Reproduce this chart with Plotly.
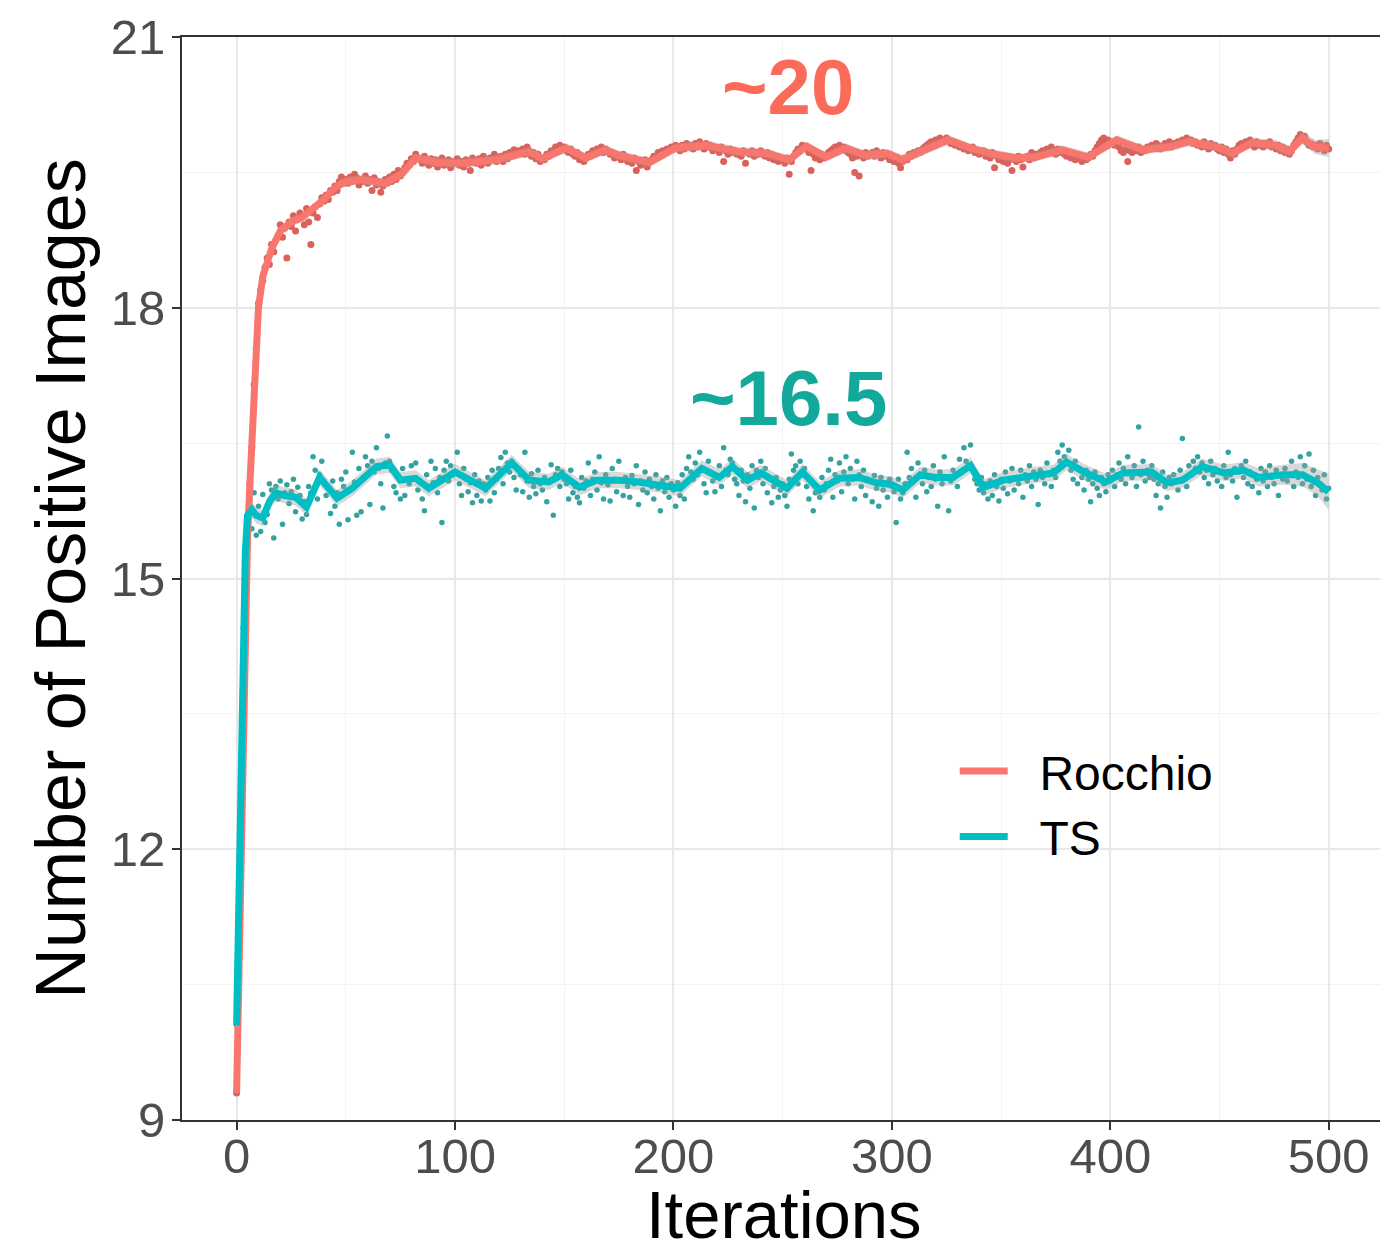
import plotly.graph_objects as go

# ---------------- data ----------------
rocchio_points = [
    9.30, 10.60, 12.05, 13.35, 14.75, 15.40, 16.05, 16.45, 17.15, 17.55,
    18.05, 18.20, 18.30, 18.45, 18.55, 18.48, 18.70, 18.62, 18.75, 18.80,
    18.92, 18.78, 18.88, 18.55, 18.95, 18.90, 19.02, 18.85, 18.98, 19.05,
    19.00, 18.92, 19.10, 18.95, 18.70, 19.05, 19.12, 19.00, 19.15, 19.22,
    19.18, 19.25, 19.20, 19.30, 19.28, 19.35, 19.30, 19.40, 19.45, 19.38,
    19.42, 19.38, 19.45, 19.40, 19.48, 19.44, 19.36, 19.42, 19.40, 19.46,
    19.38, 19.42, 19.30, 19.44, 19.36, 19.40, 19.28, 19.35, 19.42, 19.38,
    19.45, 19.40, 19.48, 19.42, 19.52, 19.46, 19.50, 19.55, 19.60, 19.58,
    19.65, 19.62, 19.70, 19.66, 19.64, 19.60, 19.68, 19.62, 19.58, 19.65,
    19.60, 19.64, 19.56, 19.62, 19.66, 19.58, 19.60, 19.64, 19.55, 19.62,
    19.60, 19.65, 19.58, 19.62, 19.56, 19.64, 19.60, 19.52, 19.66, 19.62,
    19.60, 19.65, 19.58, 19.68, 19.62, 19.60, 19.66, 19.64, 19.70, 19.62,
    19.66, 19.68, 19.62, 19.70, 19.65, 19.72, 19.68, 19.75, 19.70, 19.74,
    19.72, 19.76, 19.70, 19.78, 19.74, 19.68, 19.72, 19.65, 19.70, 19.62,
    19.66, 19.64, 19.70, 19.68, 19.74, 19.72, 19.78, 19.75, 19.80, 19.76,
    19.78, 19.74, 19.72, 19.76, 19.70, 19.68, 19.72, 19.64, 19.66, 19.62,
    19.66, 19.70, 19.68, 19.74, 19.72, 19.76, 19.74, 19.78, 19.72, 19.76,
    19.74, 19.70, 19.72, 19.66, 19.70, 19.68, 19.64, 19.70, 19.66, 19.62,
    19.64, 19.60, 19.66, 19.52, 19.62, 19.58, 19.60, 19.64, 19.56, 19.62,
    19.64, 19.68, 19.66, 19.72, 19.70, 19.74, 19.72, 19.76, 19.74, 19.78,
    19.76, 19.80, 19.78, 19.74, 19.80, 19.76, 19.82, 19.78, 19.80, 19.76,
    19.82, 19.78, 19.84, 19.80, 19.76, 19.82, 19.78, 19.80, 19.74, 19.78,
    19.76, 19.72, 19.78, 19.62, 19.74, 19.70, 19.76, 19.72, 19.74, 19.70,
    19.72, 19.68, 19.74, 19.60, 19.72, 19.70, 19.74, 19.68, 19.72, 19.70,
    19.74, 19.70, 19.68, 19.72, 19.66, 19.70, 19.64, 19.68, 19.62, 19.66,
    19.64, 19.60, 19.66, 19.48, 19.62, 19.68, 19.72, 19.76, 19.74, 19.80,
    19.78, 19.76, 19.72, 19.52, 19.70, 19.66, 19.68, 19.64, 19.70, 19.66,
    19.68, 19.72, 19.74, 19.76, 19.78, 19.74, 19.80, 19.76, 19.78, 19.74,
    19.72, 19.70, 19.66, 19.50, 19.68, 19.46, 19.70, 19.66, 19.72, 19.68,
    19.70, 19.72, 19.68, 19.74, 19.70, 19.66, 19.72, 19.68, 19.70, 19.64,
    19.66, 19.62, 19.64, 19.60, 19.55, 19.62, 19.66, 19.64, 19.70, 19.68,
    19.72, 19.70, 19.74, 19.72, 19.76, 19.78, 19.80, 19.82, 19.84, 19.82,
    19.86, 19.84, 19.88, 19.86, 19.84, 19.88, 19.86, 19.82, 19.84, 19.80,
    19.82, 19.78, 19.80, 19.76, 19.78, 19.74, 19.76, 19.78, 19.72, 19.74,
    19.70, 19.72, 19.74, 19.68, 19.70, 19.66, 19.72, 19.55, 19.68, 19.64,
    19.66, 19.62, 19.68, 19.60, 19.64, 19.52, 19.66, 19.62, 19.68, 19.64,
    19.56, 19.66, 19.68, 19.64, 19.72, 19.66, 19.70, 19.68, 19.72, 19.74,
    19.70, 19.76, 19.72, 19.78, 19.74, 19.70, 19.76, 19.72, 19.74, 19.70,
    19.68, 19.72, 19.66, 19.70, 19.64, 19.68, 19.66, 19.62, 19.68, 19.64,
    19.66, 19.70, 19.68, 19.74, 19.78, 19.82, 19.86, 19.88, 19.84, 19.86,
    19.82, 19.84, 19.80, 19.86, 19.78, 19.74, 19.72, 19.76, 19.62, 19.74,
    19.72, 19.76, 19.74, 19.78, 19.72, 19.76, 19.74, 19.78, 19.76, 19.80,
    19.78, 19.82, 19.80, 19.76, 19.78, 19.82, 19.80, 19.84, 19.78, 19.82,
    19.80, 19.84, 19.82, 19.86, 19.84, 19.88, 19.84, 19.86, 19.82, 19.84,
    19.80, 19.82, 19.78, 19.84, 19.80, 19.76, 19.82, 19.78, 19.80, 19.76,
    19.74, 19.78, 19.72, 19.76, 19.70, 19.66, 19.74, 19.70, 19.76, 19.80,
    19.82, 19.78, 19.84, 19.80, 19.86, 19.82, 19.78, 19.84, 19.80, 19.82,
    19.78, 19.82, 19.80, 19.84, 19.78, 19.80, 19.76, 19.80, 19.74, 19.78,
    19.72, 19.76, 19.70, 19.74, 19.80, 19.84, 19.88, 19.92, 19.86, 19.90,
    19.84, 19.80, 19.82, 19.78, 19.80, 19.76, 19.82, 19.78, 19.74, 19.80,
    19.76,
]

ts_points = [
    10.05, 11.65, 13.05, 14.45, 15.25, 15.62, 15.90, 15.55, 15.95, 15.48,
    15.80, 15.52, 15.93, 15.62, 15.71, 16.05, 15.98, 15.45, 16.02, 15.88,
    16.08, 15.60, 15.95, 16.04, 15.83, 15.96, 16.10, 15.74, 16.01, 15.92,
    15.66, 15.85, 15.71, 16.02, 15.95, 16.35, 16.20, 15.88, 16.15, 16.30,
    16.05, 15.92, 16.00, 15.72, 16.08, 15.80, 15.95, 15.60, 16.10, 16.02,
    16.18, 15.65, 15.98, 16.40, 16.07, 15.70, 16.22, 15.74, 16.12, 16.35,
    16.25, 15.82, 16.30, 16.18, 16.45, 16.22, 16.05, 15.78, 16.28, 16.58,
    16.30, 16.20, 16.02, 15.95, 16.14, 15.88, 16.22, 15.92, 16.10, 16.05,
    16.25, 16.10, 16.28, 15.98, 16.06, 15.88, 15.75, 16.15, 16.02, 16.30,
    16.06, 16.22, 15.95, 16.12, 15.62, 16.20, 16.30, 16.08, 16.25, 16.15,
    16.18, 16.40, 16.05, 15.92, 16.22, 16.10, 15.96, 16.06, 15.84, 16.15,
    15.92, 16.08, 15.86, 16.05, 15.98, 16.12, 15.86, 16.20, 15.95, 16.10,
    16.22, 16.34, 16.05, 16.40, 16.28, 16.18, 16.30, 16.12, 15.98, 16.22,
    16.15, 15.96, 16.40, 16.08, 15.90, 16.16, 16.02, 15.94, 16.20, 16.05,
    15.98, 16.12, 15.85, 16.08, 16.26, 15.70, 16.15, 16.22, 16.02, 16.18,
    16.10, 16.05, 15.88, 16.20, 15.95, 16.02, 15.90, 15.84, 16.12, 16.00,
    16.08, 16.28, 15.92, 16.10, 16.18, 15.98, 16.35, 16.06, 15.88, 16.15,
    16.04, 15.86, 16.22, 16.10, 15.96, 16.30, 16.08, 15.92, 16.12, 16.02,
    15.90, 16.14, 16.05, 16.25, 15.82, 16.08, 15.98, 16.18, 15.95, 16.10,
    16.02, 15.88, 16.15, 16.00, 15.75, 16.08, 15.96, 16.12, 15.90, 16.05,
    15.98, 15.80, 16.06, 15.92, 16.15, 15.88, 16.22, 16.35, 16.18, 16.10,
    16.28, 16.15, 16.40, 16.20, 16.05, 15.95, 16.30, 16.18, 16.08, 15.96,
    16.12, 16.25, 16.02, 16.45, 16.20, 16.15, 16.32, 16.28, 16.10, 16.05,
    15.92, 16.20, 16.08, 15.85, 16.15, 16.00, 16.25, 15.78, 16.20, 16.12,
    16.30, 16.05, 16.22, 15.95, 16.10, 15.84, 16.02, 16.12, 15.90, 15.98,
    16.05, 15.92, 15.80, 16.10, 16.38, 16.20, 16.25, 16.05, 16.30, 16.15,
    16.22, 16.02, 15.88, 16.08, 15.75, 15.95, 16.02, 15.90, 16.12, 15.98,
    16.05, 16.20, 16.32, 15.90, 16.15, 16.08, 16.28, 15.96, 16.18, 16.35,
    16.05, 16.22, 16.10, 15.88, 16.30, 16.15, 16.02, 16.20, 15.92, 16.10,
    16.08, 15.85, 16.14, 16.00, 15.80, 16.12, 15.98, 16.06, 15.90, 16.10,
    16.02, 15.96, 15.62, 16.10, 15.88, 15.95, 16.05, 16.40, 16.12, 16.22,
    16.08, 15.90, 16.28, 16.15, 16.05, 16.20, 15.96, 16.12, 16.02, 16.25,
    16.10, 15.80, 16.18, 16.05, 16.35, 16.12, 15.75, 16.08, 16.20, 16.15,
    16.02, 16.32, 16.18, 16.45, 16.30, 16.25, 16.48, 16.22, 16.10, 16.05,
    15.98, 16.12, 15.95, 16.05, 15.88, 16.08, 15.92, 16.15, 16.02, 15.86,
    16.10, 16.00, 16.18, 15.94, 16.08, 16.22, 15.98, 16.12, 16.05, 16.20,
    15.90, 16.15, 16.08, 16.25, 16.02, 16.18, 16.10, 15.82, 16.20, 16.12,
    16.05, 16.28, 16.15, 16.02, 16.20, 16.12, 16.40, 16.30, 16.48, 16.35,
    16.28, 16.42, 16.20, 16.10, 16.30, 16.05, 16.22, 16.12, 15.98, 16.20,
    16.10, 15.85, 16.05, 16.18, 16.00, 15.92, 16.12, 16.05, 15.96, 16.15,
    16.08, 16.20, 16.02, 16.15, 16.28, 16.10, 16.22, 16.05, 16.35, 16.18,
    16.12, 16.25, 16.02, 16.68, 16.15, 16.30, 16.08, 16.20, 16.12, 16.25,
    16.10, 15.92, 16.05, 15.78, 16.18, 16.02, 15.90, 16.12, 16.05, 16.15,
    16.08, 15.98, 16.20, 16.55, 16.10, 16.02, 16.25, 16.15, 16.30, 16.22,
    16.35, 16.18, 16.28, 16.12, 16.20, 16.05, 16.30, 16.15, 16.22, 16.08,
    16.18, 16.02, 16.25, 16.12, 16.40, 16.15, 16.08, 16.22, 15.90, 16.18,
    16.25, 16.12, 16.30, 16.05, 16.18, 16.02, 16.15, 16.10, 15.95, 16.22,
    16.08, 16.18, 16.02, 16.25, 16.12, 16.05, 16.20, 15.92, 16.15, 16.10,
    16.22, 16.08, 16.15, 16.30, 16.02, 16.18, 16.12, 16.35, 16.05, 16.25,
    16.10, 16.38, 16.02, 16.20, 15.92, 16.12, 16.05, 15.98, 16.15, 15.88,
    16.00,
]

# smoothed trend (geom_smooth) with standard-error band
rocchio_smooth_x = [
    0, 1, 2, 3, 4, 5, 6, 7, 8, 9,
    10, 12, 14, 16, 20, 25, 30, 35, 40, 45,
    50, 57, 63, 68, 76, 82, 92, 104, 119, 134,
    140, 151, 160, 169, 175, 189, 201, 215, 230, 243,
    253, 261, 270, 279, 288, 298, 305, 313, 326, 336,
    345, 357, 366, 378, 390, 403, 415, 427, 436, 449,
    456, 465, 476, 482, 488, 494, 500,
]
rocchio_smooth_y = [
    9.30, 10.55, 12.00, 13.40, 14.70, 15.45, 16.00, 16.50, 17.10, 17.60,
    18.00, 18.35, 18.52, 18.65, 18.85, 18.95, 19.00, 19.10, 19.20, 19.33,
    19.40, 19.42, 19.40, 19.38, 19.49, 19.66, 19.61, 19.60, 19.64, 19.73,
    19.65, 19.77, 19.66, 19.75, 19.69, 19.61, 19.77, 19.80, 19.73, 19.71,
    19.64, 19.79, 19.67, 19.77, 19.69, 19.71, 19.64, 19.73, 19.86, 19.77,
    19.71, 19.66, 19.67, 19.75, 19.67, 19.86, 19.75, 19.78, 19.84, 19.78,
    19.71, 19.83, 19.80, 19.73, 19.88, 19.78, 19.77,
]
rocchio_smooth_se = [
    0.15, 0.14, 0.12, 0.10, 0.09, 0.08, 0.07, 0.07, 0.06, 0.06,
    0.06, 0.05, 0.05, 0.05, 0.05, 0.05, 0.05, 0.05, 0.05, 0.05,
    0.05, 0.05, 0.05, 0.05, 0.05, 0.05, 0.05, 0.05, 0.05, 0.05,
    0.05, 0.05, 0.05, 0.05, 0.05, 0.05, 0.05, 0.05, 0.05, 0.05,
    0.05, 0.05, 0.05, 0.05, 0.05, 0.05, 0.05, 0.05, 0.05, 0.05,
    0.05, 0.05, 0.05, 0.05, 0.05, 0.05, 0.05, 0.05, 0.05, 0.05,
    0.05, 0.05, 0.06, 0.06, 0.07, 0.08, 0.10,
]

ts_smooth_x = [
    0, 1, 2, 3, 4, 5, 7, 9, 12, 15,
    18, 22, 27, 32, 38, 46, 53, 64, 70, 75,
    82, 88, 100, 114, 126, 134, 143, 149, 157, 165,
    175, 184, 194, 203, 213, 221, 227, 234, 240, 252,
    259, 267, 276, 285, 293, 300, 305, 313, 320, 328,
    336, 342, 351, 366, 374, 380, 388, 398, 406, 419,
    426, 433, 442, 452, 461, 468, 479, 488, 495, 500,
]
ts_smooth_y = [
    10.05, 11.60, 13.10, 14.40, 15.30, 15.70, 15.76, 15.70, 15.67, 15.85,
    15.95, 15.92, 15.90, 15.79, 16.12, 15.89, 16.00, 16.24, 16.26, 16.09,
    16.11, 16.00, 16.18, 16.00, 16.28, 16.09, 16.07, 16.15, 16.01, 16.09,
    16.09, 16.07, 16.04, 16.00, 16.22, 16.12, 16.24, 16.09, 16.17, 16.00,
    16.18, 15.98, 16.11, 16.12, 16.06, 16.04, 15.98, 16.15, 16.12, 16.12,
    16.25, 16.01, 16.09, 16.15, 16.17, 16.29, 16.18, 16.07, 16.17, 16.18,
    16.06, 16.09, 16.24, 16.17, 16.20, 16.12, 16.15, 16.15, 16.06, 15.96,
]
ts_smooth_se = [
    0.20, 0.18, 0.16, 0.14, 0.12, 0.10, 0.09, 0.09, 0.09, 0.09,
    0.09, 0.09, 0.09, 0.09, 0.09, 0.09, 0.09, 0.09, 0.09, 0.09,
    0.09, 0.09, 0.09, 0.09, 0.09, 0.09, 0.09, 0.09, 0.09, 0.09,
    0.09, 0.09, 0.09, 0.09, 0.09, 0.09, 0.09, 0.09, 0.09, 0.09,
    0.09, 0.09, 0.09, 0.09, 0.09, 0.09, 0.09, 0.09, 0.09, 0.09,
    0.09, 0.09, 0.09, 0.09, 0.09, 0.09, 0.09, 0.09, 0.09, 0.09,
    0.09, 0.09, 0.09, 0.09, 0.09, 0.10, 0.11, 0.13, 0.15, 0.20,
]

series_names = ["Rocchio", "TS"]
y_ticks = [9, 12, 15, 18, 21]
x_ticks = [0, 100, 200, 300, 400, 500]
annotation_texts = ["~20", "~16.5"]
annotation_pos = [(252.5, 20.45), (252.5, 17.0)]
x_title = "Iterations"
y_title = "Number of Positive Images"

# ---------------- styling ----------------
line_colors = {"Rocchio": "#F8766D", "TS": "#00BFC4"}
point_colors = {"Rocchio": "#DA625B", "TS": "#35A2A2"}
point_sizes = {"Rocchio": 7, "TS": 5.5}
line_widths = {"Rocchio": 7, "TS": 7}
ann_colors = ["#FA6B5A", "#13A89C"]
FONT = "Liberation Sans, Arial, Helvetica, sans-serif"
NBSP = "\u00a0"

series = {
    "Rocchio": (rocchio_points, rocchio_smooth_x, rocchio_smooth_y, rocchio_smooth_se),
    "TS": (ts_points, ts_smooth_x, ts_smooth_y, ts_smooth_se),
}

fig = go.Figure()

# points first
for name in series_names:
    pts = series[name][0]
    fig.add_trace(go.Scatter(
        x=list(range(len(pts))), y=pts, mode="markers",
        marker=dict(size=point_sizes[name], color=point_colors[name]),
        showlegend=False, hoverinfo="skip", legendgroup=name,
    ))

# ribbons
for name in series_names:
    _, sx, sy, se = series[name]
    upper = [v + e for v, e in zip(sy, se)]
    lower = [v - e for v, e in zip(sy, se)]
    fig.add_trace(go.Scatter(
        x=sx + sx[::-1], y=upper + lower[::-1], mode="lines",
        fill="toself", fillcolor="rgba(160,160,160,0.40)",
        line=dict(width=0), showlegend=False, hoverinfo="skip",
        legendgroup=name,
    ))

# smooth lines
for name in series_names:
    _, sx, sy, _ = series[name]
    fig.add_trace(go.Scatter(
        x=sx, y=sy, mode="lines", name=NBSP * 2 + name,
        line=dict(color=line_colors[name], width=line_widths[name]),
        legendgroup=name,
    ))

# annotations
for txt, (ax, ay), col in zip(annotation_texts, annotation_pos, ann_colors):
    fig.add_annotation(x=ax, y=ay, xref="x", yref="y", text="<b>%s</b>" % txt,
                       showarrow=False, font=dict(size=78, color=col, family=FONT),
                       xanchor="center", yanchor="middle")

# x-axis title (placed as paper annotation so it can sit low in the margin)
fig.add_annotation(x=0.5025, y=-0.0875, xref="paper", yref="paper", text=x_title,
                   showarrow=False, font=dict(size=67, color="#000000", family=FONT),
                   xanchor="center", yanchor="middle")

# legend background box (covers gridlines)
fig.add_shape(type="rect", xref="paper", yref="paper",
              x0=0.6285, x1=0.8748, y0=0.217, y1=0.3832,
              fillcolor="white", line=dict(width=0), layer="between")

fig.update_layout(
    width=1380, height=1248,
    margin=dict(l=182, r=0, t=37, b=128, autoexpand=False),
    paper_bgcolor="white", plot_bgcolor="white",
    font=dict(family=FONT, color="#000000"),
    showlegend=True,
    legend=dict(
        x=0.645, y=0.357, xanchor="left", yanchor="top",
        bgcolor="rgba(255,255,255,0)", font=dict(size=48, color="#000000", family=FONT),
        itemwidth=48, tracegroupgap=0,
    ),
    xaxis=dict(
        range=[-25, 523.5], tickmode="array", tickvals=x_ticks,
        ticktext=[str(v) for v in x_ticks], automargin=False,
        showgrid=True, gridcolor="#E8E8E8", gridwidth=2.2,
        minor=dict(dtick=50, tick0=0, showgrid=True, gridcolor="#F3F3F3", gridwidth=1.4),
        showline=True, linecolor="#333333", linewidth=2, mirror=True,
        ticks="outside", ticklen=8, tickwidth=2, tickcolor="#333333",
        tickfont=dict(size=49, color="#4D4D4D", family=FONT),
        ticklabelstandoff=-16,
        zeroline=False,
    ),
    yaxis=dict(
        range=[9, 21], tickmode="array", tickvals=y_ticks,
        ticktext=[str(v) for v in y_ticks], automargin=False,
        showgrid=True, gridcolor="#E8E8E8", gridwidth=2.2,
        minor=dict(dtick=1.5, tick0=9, showgrid=True, gridcolor="#F3F3F3", gridwidth=1.4),
        showline=True, linecolor="#333333", linewidth=2, mirror=False,
        ticks="outside", ticklen=8, tickwidth=2, tickcolor="#333333",
        tickfont=dict(size=49, color="#4D4D4D", family=FONT),
        ticklabelstandoff=-3,
        title=dict(text=y_title, font=dict(size=70, color="#000000", family=FONT), standoff=2),
        zeroline=False,
    ),
)

fig.write_html(
    "out.html",
    config={"displayModeBar": False},
    post_script="document.body.style.margin='0';document.documentElement.style.overflow='hidden';",
)
